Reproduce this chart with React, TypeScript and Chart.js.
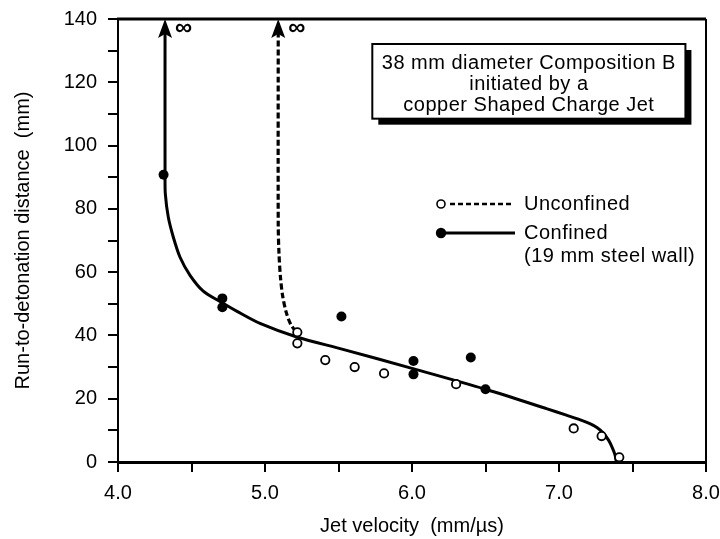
import React, { useEffect, useRef } from 'react';
import { Chart, registerables } from 'chart.js';

Chart.register(...registerables);

// ---- data ----
const confinedX = [4.31, 4.71, 4.71, 5.52, 6.01, 6.01, 6.40, 6.50];
const confinedY = [90.8, 51.7, 48.9, 46.0, 31.9, 27.7, 33.0, 23.0];

const unconfinedX = [5.22, 5.22, 5.41, 5.61, 5.81, 6.30, 7.10, 7.29, 7.41];
const unconfinedY = [41.0, 37.5, 32.2, 30.0, 28.0, 24.6, 10.6, 8.2, 1.5];

// hand-drawn fitted curves
const confinedCurveX = [4.32, 4.32, 4.322, 4.342, 4.376, 4.422, 4.49, 4.58, 4.706, 4.81, 4.97, 5.216, 5.53, 6.00, 6.50, 6.92, 7.05, 7.145, 7.21, 7.258, 7.30, 7.337, 7.36, 7.38, 7.39];
const confinedCurveY = [136, 90.8, 84.7, 77.4, 71.1, 64.7, 59.0, 54.0, 50.4, 47.6, 43.7, 39.5, 35.6, 29.6, 23.0, 16.8, 14.8, 13.3, 12.1, 10.9, 9.2, 6.9, 4.8, 2.4, 0.0];

const unconfinedCurveX = [5.09, 5.09, 5.095, 5.105, 5.12, 5.145, 5.175, 5.22];
const unconfinedCurveY = [136, 75.0, 66.0, 58.5, 52.5, 47.2, 43.5, 40.5];

// arrows to infinity at the top of each curve
const arrowX = [4.32, 5.09];
const arrowTipY = 140;

const xMin = 4, xMax = 8, xStep = 0.5;
const yMin = 0, yMax = 140, yStep = 10, yLabelStep = 20;

const xTitle = 'Jet velocity  (mm/\u00B5s)';
const yTitle = 'Run-to-detonation distance  (mm)';
const annotationLines = ['38 mm diameter Composition B', 'initiated by a', 'copper Shaped Charge Jet'];
const legendLabels = ['Unconfined', 'Confined', '(19 mm steel wall)'];

const FONT = '"Liberation Sans", Arial, Helvetica, sans-serif';

const toPts = (xs: number[], ys: number[]) => xs.map((x, i) => ({ x, y: ys[i] }));

const overlay = {
  id: 'overlay',
  afterDraw(chart: any) {
    const { ctx, chartArea: ca, scales } = chart;
    const xs = scales.x, ys = scales.y;
    ctx.save();
    ctx.strokeStyle = '#000';
    ctx.fillStyle = '#000';
    ctx.setLineDash([]);
    // frame top + right
    ctx.lineWidth = 3;
    ctx.beginPath();
    ctx.moveTo(ca.left - 1, ca.top);
    ctx.lineTo(ca.right, ca.top);
    ctx.stroke();
    ctx.lineWidth = 2;
    ctx.beginPath();
    ctx.moveTo(ca.right, ca.top);
    ctx.lineTo(ca.right, ca.bottom);
    ctx.stroke();

    // arrows + infinity
    ctx.textBaseline = 'middle';
    ctx.textAlign = 'left';
    arrowX.forEach((v) => {
      const px = xs.getPixelForValue(v);
      const py = ys.getPixelForValue(arrowTipY);
      ctx.beginPath();
      ctx.moveTo(px, py);
      ctx.lineTo(px - 7, py + 19);
      ctx.lineTo(px, py + 15);
      ctx.lineTo(px + 7, py + 19);
      ctx.closePath();
      ctx.fill();
      ctx.font = `bold 24px ${FONT}`;
      ctx.fillText('\u221E', px + 10, py + 9);
    });

    // annotation box
    ctx.font = `20px ${FONT}`;
    const bl = xs.getPixelForValue(5.73), br = xs.getPixelForValue(7.86);
    const bt = ys.getPixelForValue(132.1), bb = ys.getPixelForValue(108.5);
    ctx.fillStyle = '#000';
    ctx.fillRect(bl + 6, bt + 6, br - bl, bb - bt);
    ctx.fillStyle = '#fff';
    ctx.fillRect(bl, bt, br - bl, bb - bt);
    ctx.strokeStyle = '#000';
    ctx.lineWidth = 2;
    ctx.strokeRect(bl, bt, br - bl, bb - bt);
    ctx.fillStyle = '#000';
    ctx.textAlign = 'center';
    try { (ctx as any).letterSpacing = '0.5px'; } catch (e) {}
    const cx = (bl + br) / 2;
    annotationLines.forEach((t, i) => ctx.fillText(t, cx, bt + 19 + i * 21));

    // legend
    ctx.textAlign = 'left';
    const lx = 441, ly1 = 204, ly2 = 233;
    ctx.lineWidth = 2.5;
    ctx.setLineDash([5, 3]);
    ctx.beginPath();
    ctx.moveTo(450, ly1);
    ctx.lineTo(514, ly1);
    ctx.stroke();
    ctx.setLineDash([]);
    ctx.lineWidth = 1.6;
    ctx.fillStyle = '#fff';
    ctx.beginPath();
    ctx.arc(lx, ly1, 4, 0, Math.PI * 2);
    ctx.fill();
    ctx.stroke();
    ctx.fillStyle = '#000';
    ctx.lineWidth = 3;
    ctx.beginPath();
    ctx.moveTo(443, ly2);
    ctx.lineTo(515, ly2);
    ctx.stroke();
    ctx.beginPath();
    ctx.arc(lx, ly2, 5.2, 0, Math.PI * 2);
    ctx.fill();
    ctx.fillText(legendLabels[0], 524, ly1);
    ctx.fillText(legendLabels[1], 524, ly2);
    ctx.fillText(legendLabels[2], 524, ly2 + 23);
    ctx.restore();
  },
};

export default function App() {
  const ref = useRef<HTMLCanvasElement | null>(null);
  useEffect(() => {
    if (!ref.current) return;
    Chart.defaults.font.family = FONT;
    Chart.defaults.color = '#000';
    const chart = new Chart(ref.current, {
      type: 'scatter',
      data: {
        datasets: [
          {
            label: 'Confined curve',
            data: toPts(confinedCurveX, confinedCurveY),
            showLine: true,
            pointRadius: 0,
            borderColor: '#000',
            borderWidth: 3,
            tension: 0.3,
            fill: false,
            order: 3,
          },
          {
            label: 'Unconfined curve',
            data: toPts(unconfinedCurveX, unconfinedCurveY),
            showLine: true,
            pointRadius: 0,
            borderColor: '#000',
            borderWidth: 3.2,
            borderDash: [6, 3],
            tension: 0.3,
            fill: false,
            order: 2,
          },
          {
            label: 'Unconfined',
            data: toPts(unconfinedX, unconfinedY),
            pointRadius: 4.2,
            backgroundColor: '#fff',
            borderColor: '#000',
            borderWidth: 1.8,
            order: 1,
          },
          {
            label: 'Confined',
            data: toPts(confinedX, confinedY),
            pointRadius: 5,
            backgroundColor: '#000',
            borderColor: '#000',
            borderWidth: 0,
            order: 0,
          },
        ],
      },
      options: {
        animation: false,
        responsive: false,
        layout: { padding: { top: 19, right: 14, left: 0, bottom: 0 } },
        plugins: { legend: { display: false }, tooltip: { enabled: false } },
        scales: {
          x: {
            type: 'linear',
            min: xMin,
            max: xMax,
            afterFit: (s: any) => {
              s.height = 77;
              s.paddingLeft = 0;
              s.paddingRight = 0;
            },
            border: { display: true, color: '#000', width: 3 },
            grid: { display: true, drawOnChartArea: false, drawTicks: true, tickLength: 10, color: '#000', lineWidth: 2 },
            ticks: {
              stepSize: xStep,
              autoSkip: false,
              maxRotation: 0,
              padding: 9,
              color: '#000',
              font: { size: 20 },
              callback: (v: any) => (Math.abs(v - Math.round(v)) < 1e-6 ? Number(v).toFixed(1) : ''),
            },
            title: { display: true, text: xTitle, color: '#000', font: { size: 20 }, padding: { top: 0, bottom: 1 } },
          },
          y: {
            type: 'linear',
            min: yMin,
            max: yMax,
            afterFit: (s: any) => {
              s.width = 118;
              s.paddingTop = 0;
              s.paddingBottom = 0;
            },
            border: { display: true, color: '#000', width: 2 },
            grid: { display: true, drawOnChartArea: false, drawTicks: true, tickLength: 10, color: '#000', lineWidth: 2 },
            ticks: {
              stepSize: yStep,
              autoSkip: false,
              padding: 11,
              color: '#000',
              font: { size: 20 },
              callback: (v: any) => (Math.round(v) % yLabelStep === 0 ? String(Math.round(v)) : ''),
            },
            title: { display: true, text: yTitle, color: '#000', font: { size: 20 }, padding: { top: 11, bottom: 0 } },
          },
        },
      },
      plugins: [overlay],
    } as any);
    return () => chart.destroy();
  }, []);
  return (
    <div style={{ position: 'absolute', left: 0, top: 0, width: 720, height: 539, background: '#fff' }}>
      <canvas ref={ref} width={720} height={539} />
    </div>
  );
}
